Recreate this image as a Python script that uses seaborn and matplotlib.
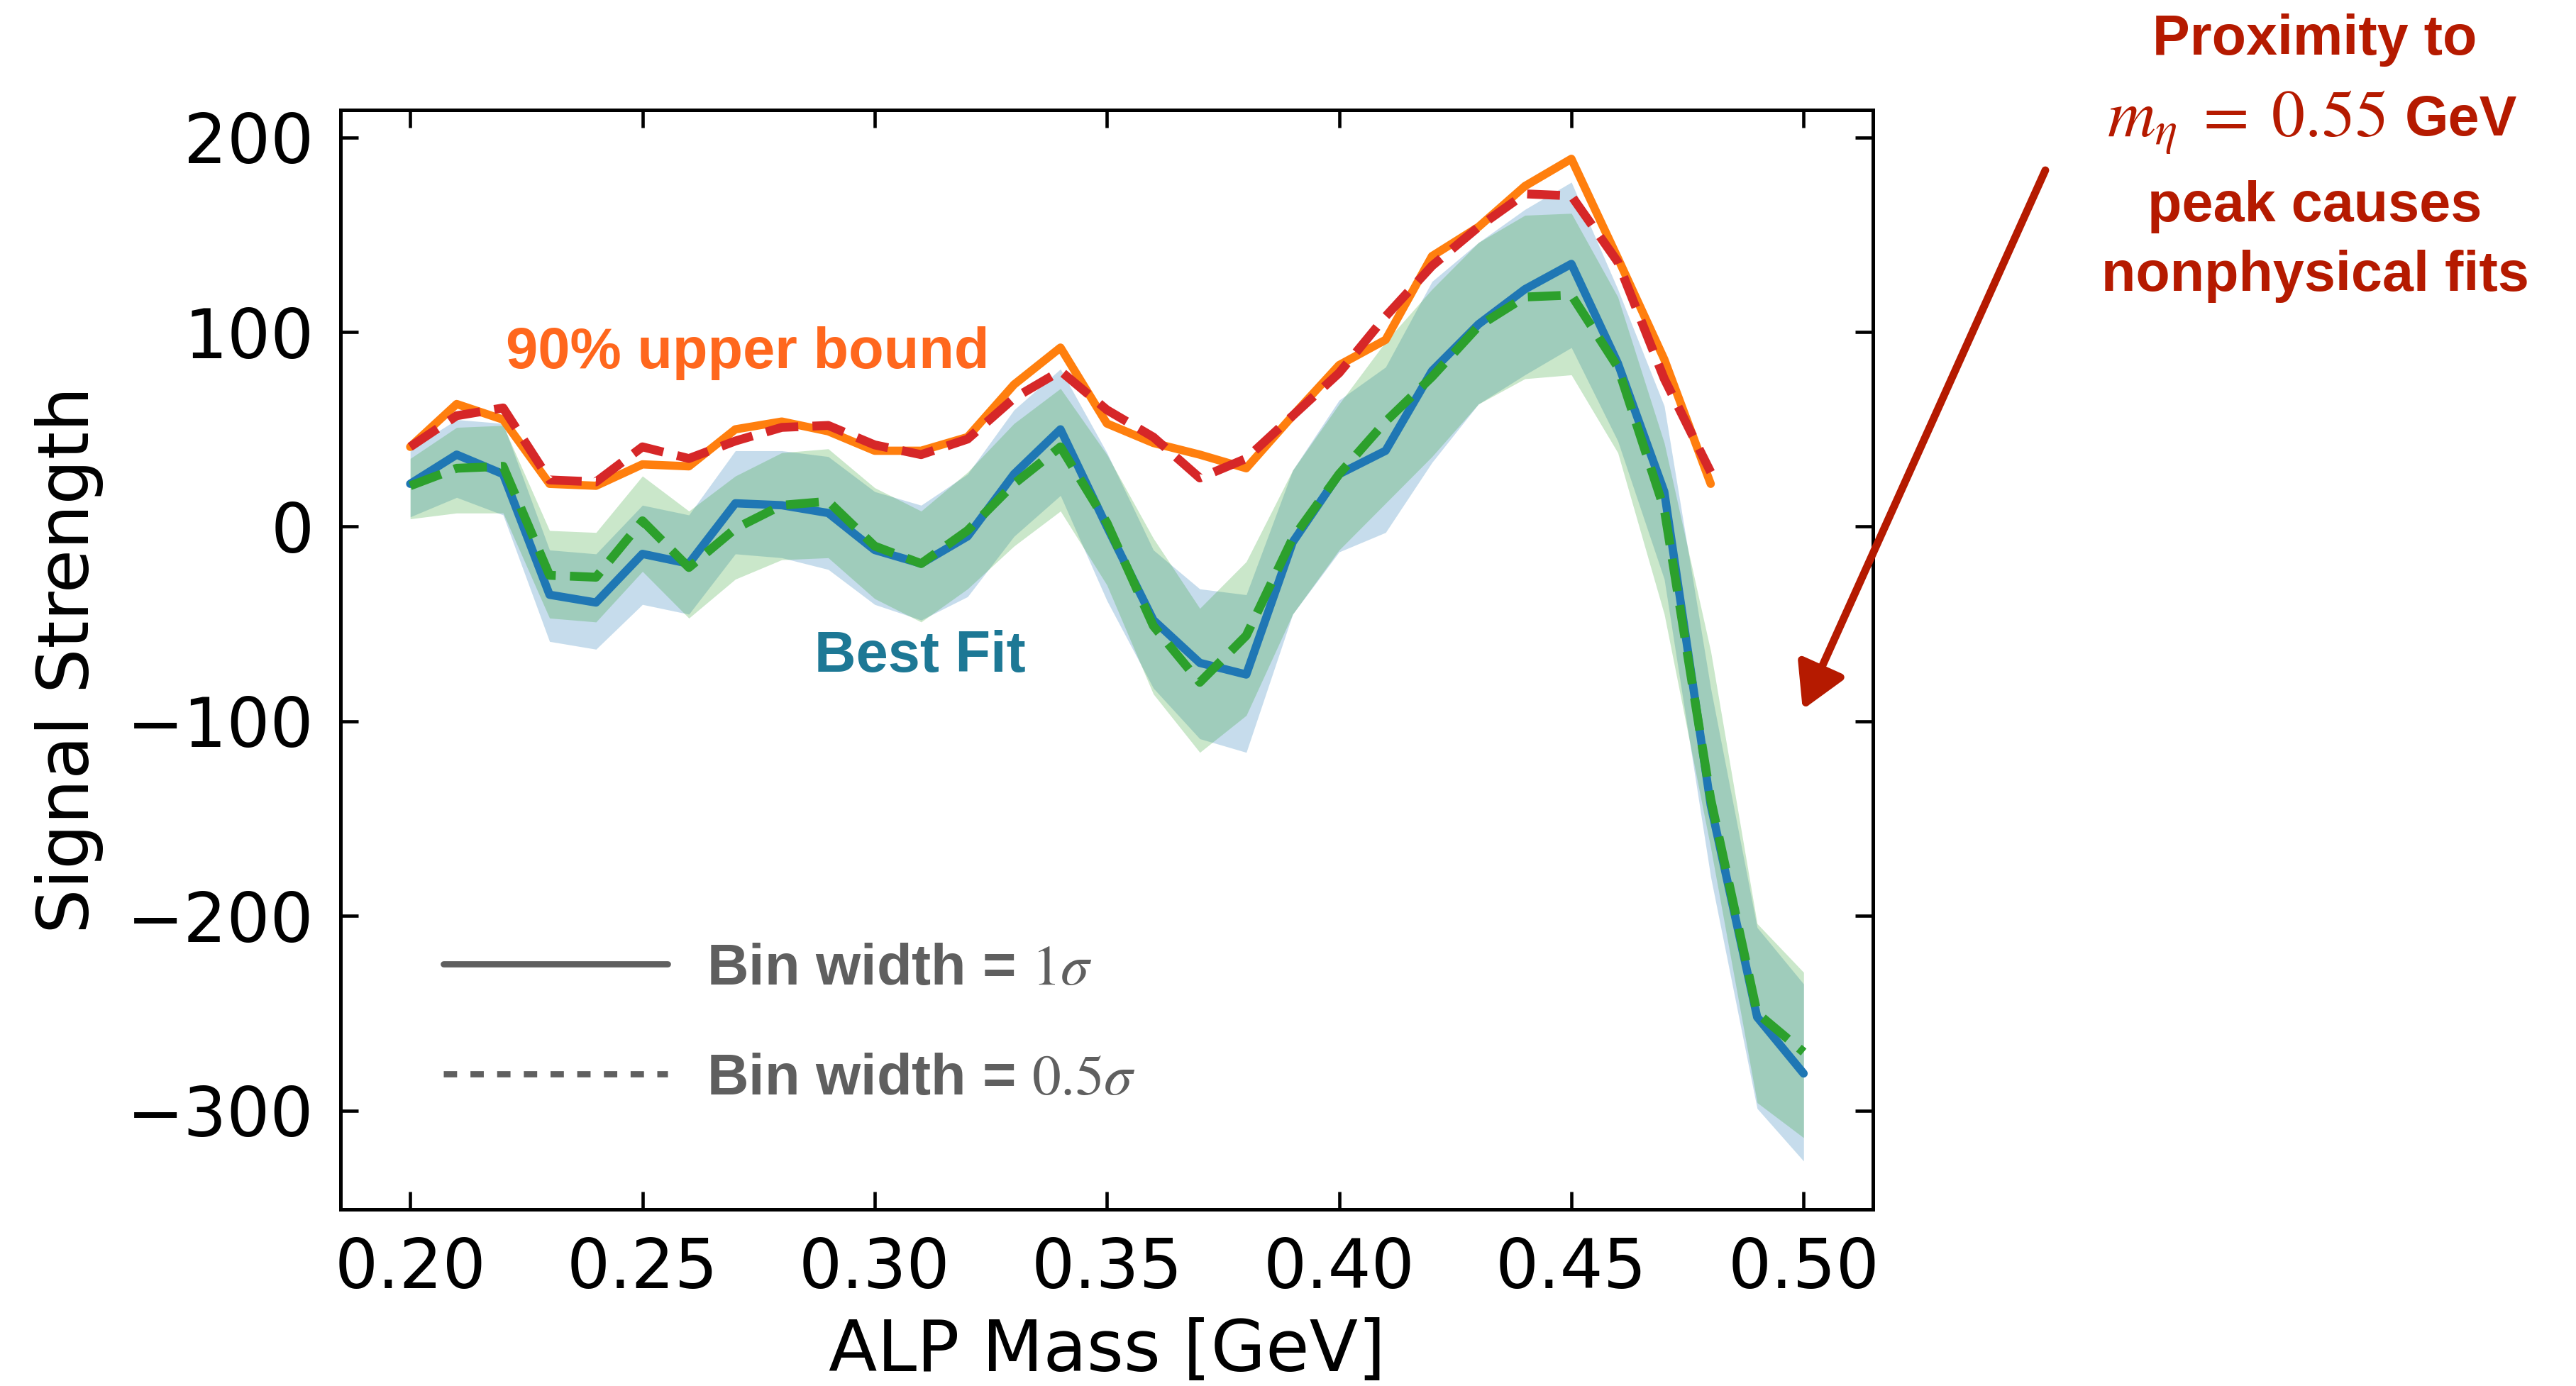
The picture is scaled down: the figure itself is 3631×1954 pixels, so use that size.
import numpy as np
import pandas as pd
import matplotlib
matplotlib.use("Agg")
import matplotlib.pyplot as plt
import seaborn as sns
from matplotlib.lines import Line2D
from matplotlib.font_manager import FontProperties
from matplotlib.ticker import FormatStrFormatter

# ---------------- data ----------------
mass = [0.20, 0.21, 0.22, 0.23, 0.24, 0.25, 0.26, 0.27, 0.28, 0.29, 0.30,
        0.31, 0.32, 0.33, 0.34, 0.35, 0.36, 0.37, 0.38, 0.39, 0.40,
        0.41, 0.42, 0.43, 0.44, 0.45, 0.46, 0.47, 0.48, 0.49, 0.50]

# best fit, bin width = 1 sigma (solid blue) and its band
best_1sig = [22, 37, 27, -35, -39, -14, -19, 12, 11, 7, -12,
             -19, -5, 27, 50, 0, -48, -70, -76, -8, 27,
             39, 80, 104, 122, 135, 84, 18, -143, -252, -281]
band_1sig_lo = [5, 15, 6, -59, -63, -40, -45, -14, -16, -22, -40,
                -48, -36, -5, 16, -38, -83, -109, -116, -45, -13,
                -3, 33, 63, 78, 92, 44, -27, -180, -299, -326]
band_1sig_hi = [40, 55, 53, -12, -14, 11, 6, 39, 39, 36, 18,
                11, 27, 60, 81, 38, -12, -32, -35, 29, 65,
                82, 126, 146, 163, 177, 122, 62, -83, -206, -235]

# best fit, bin width = 0.5 sigma (dashed green) and its band
best_half = [21, 30, 31, -25, -26, 3, -21, -1, 11, 13, -10,
             -19, -2, 22, 41, 2, -51, -80, -56, -6, 27,
             54, 77, 103, 118, 119, 82, 9, -140, -250, -270]
band_half_lo = [4, 7, 7, -47, -49, -23, -47, -27, -17, -16, -37,
                -49, -32, -10, 8, -30, -86, -116, -97, -45, -12,
                12, 36, 63, 76, 78, 38, -45, -165, -296, -314]
band_half_hi = [35, 51, 52, -2, -3, 26, 8, 26, 38, 40, 20,
                8, 28, 53, 71, 37, -6, -42, -18, 29, 63,
                95, 122, 146, 160, 161, 118, 43, -64, -204, -229]

# 90% upper bounds (only up to 0.48 GeV)
upper_mass = mass[:29]
upper_1sig = [41, 63, 55, 22, 21, 32, 31, 50, 54, 49, 39,
              39, 46, 73, 92, 53, 43, 37, 30, 57, 83,
              96, 139, 154, 175, 189, 138, 86, 22]
upper_half = [41, 57, 61, 24, 23, 41, 35, 44, 51, 52, 42,
              37, 45, 66, 80, 60, 46, 25, 35, 57, 79,
              108, 134, 154, 171, 170, 136, 76, 28]

xticks = [0.20, 0.25, 0.30, 0.35, 0.40, 0.45, 0.50]
yticks = [-300, -200, -100, 0, 100, 200]

# ---------------- style ----------------
sns.set_style("ticks")
plt.rcParams.update({
    "font.family": ["DejaVu Sans"],
    "mathtext.fontset": "stix",
    "axes.linewidth": 1.2,
    "axes.edgecolor": "black",
    "axes.labelcolor": "black",
    "text.color": "black",
    "xtick.color": "black",
    "ytick.color": "black",
    "xtick.direction": "in",
    "ytick.direction": "in",
    "xtick.top": True,
    "ytick.right": True,
})

C_BLUE = "#1f77b4"
C_ORANGE = "#ff7f0e"
C_GREEN = "#2ca02c"
C_RED = "#d62728"
C_ANN = "#b51a00"
C_GRAY = "#5f5f5f"

fig = plt.figure(figsize=(3631 / 300, 1954 / 300), dpi=300)
ax = fig.add_axes([0.1322, 0.1272, 0.5950, 0.7933])

df = pd.DataFrame({"mass": mass, "best_1sig": best_1sig, "best_half": best_half})
dfu = pd.DataFrame({"mass": upper_mass, "upper_1sig": upper_1sig, "upper_half": upper_half})

ax.fill_between(mass, band_1sig_lo, band_1sig_hi, color=C_BLUE, alpha=0.25, lw=0)
ax.fill_between(mass, band_half_lo, band_half_hi, color=C_GREEN, alpha=0.25, lw=0)

sns.lineplot(data=dfu, x="mass", y="upper_1sig", ax=ax, color=C_ORANGE, lw=2.8,
             estimator=None, sort=False)
sns.lineplot(data=df, x="mass", y="best_1sig", ax=ax, color=C_BLUE, lw=2.8,
             estimator=None, sort=False)
sns.lineplot(data=dfu, x="mass", y="upper_half", ax=ax, color=C_RED, lw=3.0,
             linestyle="--", estimator=None, sort=False)
sns.lineplot(data=df, x="mass", y="best_half", ax=ax, color=C_GREEN, lw=3.0,
             linestyle="--", estimator=None, sort=False)

ax.set_xlim(0.185, 0.515)
ax.set_ylim(-351, 214)
ax.set_xticks(xticks)
ax.set_yticks(yticks)
ax.xaxis.set_major_formatter(FormatStrFormatter("%.2f"))
ax.tick_params(which="major", length=6, width=1.1, labelsize=23, pad=9,
               direction="in", top=True, right=True, colors="black")
ax.minorticks_off()
ax.set_xlabel("ALP Mass [GeV]", fontsize=24, labelpad=5)
ax.set_ylabel("Signal Strength", fontsize=24, labelpad=8)

# in-plot labels
ax.text(0.2727, 89, "90% upper bound", color="#ff671d", fontsize=19.5,
        fontweight="bold", family="Liberation Sans", ha="center", va="center")
ax.text(0.3098, -67, "Best Fit", color="#1d7895", fontsize=19.5,
        fontweight="bold", family="Liberation Sans", ha="center", va="center")

# legend for bin widths
handles = [Line2D([], [], color=C_GRAY, lw=2.1, ls="-"),
           Line2D([], [], color=C_GRAY, lw=2.1, ls=(0, (2.15, 2.15)))]
labels = [r"Bin width = $1\sigma$", r"Bin width = $0.5\sigma$"]
ax.legend(handles, labels, loc="center left", bbox_to_anchor=(0.067, 0.1685),
          frameon=False, borderpad=0, borderaxespad=0, handlelength=3.89,
          handletextpad=0.68, labelspacing=0.97,
          prop=FontProperties(family="Liberation Sans", weight="bold", size=19.5),
          labelcolor=C_GRAY)

# annotation on the right (figure coordinates, one text per line)
ann_kw = dict(color=C_ANN, fontsize=19, fontweight="bold", family="Liberation Sans",
              va="baseline")
xc = 3263 / 3631
fig.text(xc, 1 - 77 / 1954, "Proximity to", ha="center", **ann_kw)
fig.text(3362 / 3631, 1 - 191 / 1954, r"$m_\eta\;=\;0.55$", ha="right", va="baseline",
         color=C_ANN, fontsize=22.5)
fig.text(3390 / 3631, 1 - 191 / 1954, "GeV", ha="left", **ann_kw)
fig.text(xc, 1 - 312 / 1954, "peak causes", ha="center", **ann_kw)
fig.text(xc, 1 - 410 / 1954, "nonphysical fits", ha="center", **ann_kw)

ax.annotate("", xy=(0.4998, -94), xycoords="data",
            xytext=(2883 / 3631, 1 - 240 / 1954), textcoords="figure fraction",
            arrowprops=dict(arrowstyle="-|>,head_length=0.42,head_width=0.24",
                            mutation_scale=30, lw=2.6, color=C_ANN,
                            shrinkA=0, shrinkB=0),
            annotation_clip=False)

fig.savefig("out.png", dpi=300)
